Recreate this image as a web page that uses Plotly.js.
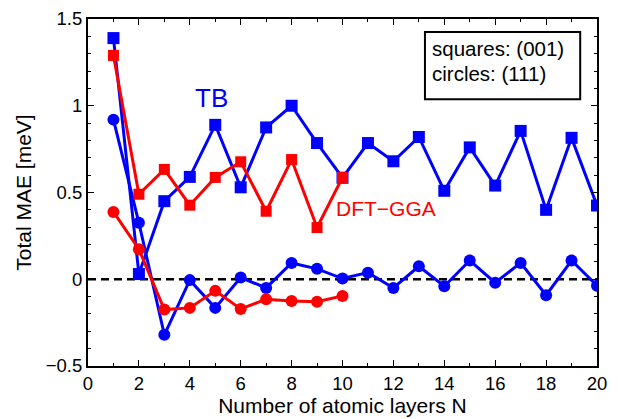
<!DOCTYPE html>
<html>
<head>
<meta charset="utf-8">
<script src="https://cdn.plot.ly/plotly-3.0.1.min.js"></script>
<style>html,body{margin:0;padding:0;background:#fff;}#chart{width:618px;height:419px;}</style>
</head>
<body>
<div id="chart"></div>
<script>
// Number of atomic layers
const layersTB = [1,2,3,4,5,6,7,8,9,10,11,12,13,14,15,16,17,18,19,20];
const layersDFT = [1,2,3,4,5,6,7,8,9,10];
// TB, (001) squares
const tbSquares = [1.39,0.03,0.45,0.59,0.89,0.53,0.875,1.0,0.785,0.585,0.785,0.68,0.82,0.51,0.76,0.54,0.855,0.40,0.815,0.425];
// TB, (111) circles
const tbCircles = [0.92,0.325,-0.32,-0.005,-0.165,0.01,-0.05,0.094,0.06,0.004,0.038,-0.05,0.075,-0.04,0.108,-0.02,0.094,-0.092,0.108,-0.037];
// DFT-GGA, (001) squares
const dftSquares = [1.29,0.49,0.633,0.427,0.587,0.677,0.392,0.69,0.298,0.587];
// DFT-GGA, (111) circles
const dftCircles = [0.388,0.173,-0.175,-0.165,-0.067,-0.171,-0.115,-0.125,-0.13,-0.096];
// Axis ticks
const yTickVals = [-0.5,0,0.5,1,1.5];
const yTickText = ['\u22120.5','0','0.5','1','1.5'];
const xTickVals = [0,2,4,6,8,10,12,14,16,18,20];

const BLUE = '#0000ff', RED = '#ff0000';
const FONT = 'Liberation Sans, Arial, Helvetica, sans-serif';

function tr(x, y, color, symbol, size){
  return {x:x, y:y, type:'scatter', mode:'lines+markers',
    line:{color:color, width:3},
    marker:{color:color, symbol:symbol, size:size, line:{width:0}},
    showlegend:false, hoverinfo:'skip'};
}

const data = [
  tr(layersTB, tbSquares, BLUE, 'square', 12),
  tr(layersTB, tbCircles, BLUE, 'circle', 12),
  tr(layersDFT, dftSquares, RED, 'square', 11),
  tr(layersDFT, dftCircles, RED, 'circle', 12)
];

const axisCommon = {
  showline:true, linecolor:'black', linewidth:2, mirror:'ticks',
  ticks:'inside', ticklen:6, tickwidth:1, tickcolor:'black',
  showgrid:false, zeroline:false,
  tickfont:{family:FONT, size:18.5, color:'black'}
};

const layout = {
  width:618, height:419,
  margin:{l:88, r:21, t:19, b:53},
  paper_bgcolor:'white', plot_bgcolor:'white',
  font:{family:FONT, color:'black'},
  xaxis:Object.assign({}, axisCommon, {
    range:[0,20], tickvals:xTickVals,
    minor:{dtick:1, ticks:'inside', ticklen:3, tickcolor:'black', tickwidth:1},
    title:{text:'Number of atomic layers N', font:{family:FONT, size:21, color:'black'}, standoff:3}
  }),
  yaxis:Object.assign({}, axisCommon, {
    range:[-0.5,1.5], tickvals:yTickVals, ticktext:yTickText,
    minor:{dtick:0.1, ticks:'inside', ticklen:3, tickcolor:'black', tickwidth:1},
    title:{text:'Total MAE [meV]', font:{family:FONT, size:21, color:'black'}, standoff:8}
  }),
  shapes:[
    {type:'line', xref:'paper', yref:'y', x0:0, x1:1, y0:0, y1:0, layer:'below',
      line:{color:'black', width:2.5, dash:'8px,5px'}},
    {type:'rect', xref:'paper', yref:'paper', x0:0.662, x1:0.967, y0:0.769, y1:0.9625,
      line:{color:'black', width:2}, fillcolor:'white', layer:'above'}
  ],
  annotations:[
    {x:4.85, y:1.045, xref:'x', yref:'y', text:'TB', showarrow:false,
      font:{family:FONT, size:26, color:BLUE}},
    {x:11.7, y:0.41, xref:'x', yref:'y', text:'DFT\u2212GGA', showarrow:false,
      font:{family:FONT, size:21, color:RED}},
    {x:0.672, y:0.915, xref:'paper', yref:'paper', xanchor:'left', yanchor:'middle',
      text:'squares: (001)', showarrow:false, font:{family:FONT, size:20.5, color:'black'}},
    {x:0.672, y:0.843, xref:'paper', yref:'paper', xanchor:'left', yanchor:'middle',
      text:'circles: (111)', showarrow:false, font:{family:FONT, size:20.5, color:'black'}}
  ]
};

Plotly.newPlot('chart', data, layout, {displayModeBar:false, staticPlot:true});
</script>
</body>
</html>
